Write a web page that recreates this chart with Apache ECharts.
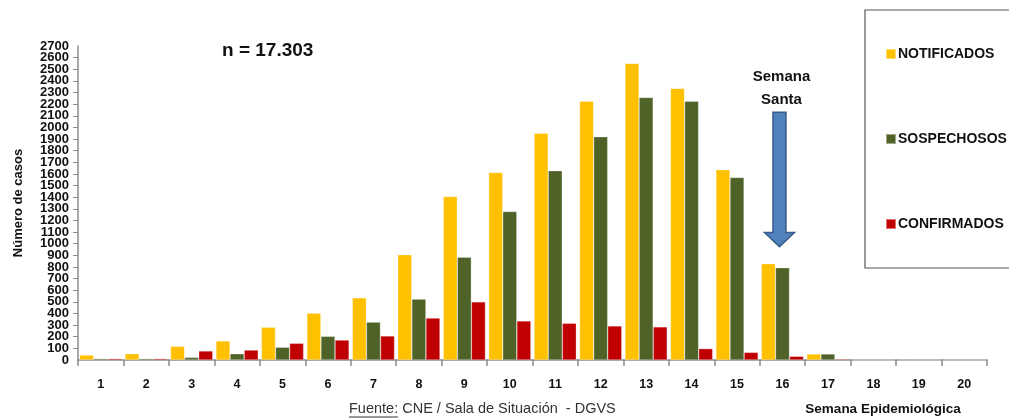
<!DOCTYPE html>
<html>
<head>
<meta charset="utf-8">
<script src="https://cdn.jsdelivr.net/npm/echarts@6/dist/echarts.min.js"></script>
<style>
  html, body { margin: 0; padding: 0; background: #fff; }
  #chart { width: 1009px; height: 419px; }
</style>
</head>
<body>
<div id="chart"></div>
<script>
// semanas epidemiologicas
var semanas = ['1','2','3','4','5','6','7','8','9','10','11','12','13','14','15','16','17','18','19','20'];
var notificados = [43, 55, 118, 164, 282, 403, 535, 906, 1406, 1613, 1950, 2226, 2551, 2336, 1637, 828, 52, 0, 0, 0];
var sospechosos = [12, 12, 23, 54, 110, 204, 326, 524, 884, 1277, 1628, 1920, 2258, 2226, 1570, 794, 52, 0, 0, 0];
var confirmados = [12, 12, 78, 86, 144, 172, 207, 361, 500, 336, 316, 293, 285, 98, 66, 32, 9, 0, 0, 0];
var yMin = 0, yMax = 2700, yPaso = 100;

var fuente = 'Liberation Sans';
var chart = echarts.init(document.getElementById('chart'));

function serie(nombre, datos, color) {
  return {
    name: nombre,
    type: 'bar',
    data: datos,
    barGap: 0,
    barCategoryGap: '7%',
    itemStyle: { color: color, borderColor: 'rgba(255,255,255,0.45)', borderWidth: 0.6 }
  };
}

var etiquetaY = { margin: 9, fontSize: 13, fontWeight: 'bold', color: '#111', fontFamily: fuente };

var option = {
  animation: false,
  backgroundColor: '#fff',
  textStyle: { fontFamily: fuente },
  grid: { left: 78, right: 22, top: 46, bottom: 59 },
  title: {
    text: 'n = 17.303',
    left: 217, top: 36,
    textStyle: { fontSize: 19, fontWeight: 'bold', color: '#111', fontFamily: fuente }
  },
  legend: {
    orient: 'vertical',
    left: 880, top: 42,
    itemGap: 71,
    itemWidth: 10, itemHeight: 10,
    icon: 'rect',
    textStyle: { fontSize: 14, fontWeight: 'bold', color: '#111', fontFamily: fuente, padding: [0, 0, 0, -3] },
    data: ['NOTIFICADOS', 'SOSPECHOSOS', 'CONFIRMADOS']
  },
  xAxis: {
    type: 'category',
    data: semanas,
    axisLine: { lineStyle: { color: '#8c8c8c', width: 1.5 } },
    axisTick: { show: true, length: 6, alignWithLabel: false, lineStyle: { color: '#8c8c8c', width: 1.5 } },
    axisLabel: { margin: 18, fontSize: 12.5, fontWeight: 'bold', color: '#111', fontFamily: fuente }
  },
  yAxis: [
    {
      type: 'value',
      min: yMin, max: yMax, interval: yPaso,
      name: 'Número de casos',
      nameLocation: 'middle',
      nameRotate: 90,
      nameGap: 53,
      nameTextStyle: { fontSize: 13, fontWeight: 'bold', color: '#111', fontFamily: fuente },
      splitLine: { show: false },
      axisLine: { show: true, lineStyle: { color: '#8c8c8c', width: 1.5 } },
      axisTick: { show: true, length: 5, lineStyle: { color: '#8c8c8c' } },
      axisLabel: Object.assign({}, etiquetaY, {
        showMinLabel: false, showMaxLabel: false,
        formatter: function (v) { return String(v); }
      })
    },
    {
      // solo para mostrar las etiquetas 0 y 2700 sin que se oculten las vecinas
      type: 'value', position: 'left', offset: 0,
      min: yMin, max: yMax, interval: yPaso,
      splitLine: { show: false }, axisLine: { show: false }, axisTick: { show: false },
      axisLabel: Object.assign({}, etiquetaY, {
        showMinLabel: true, showMaxLabel: true,
        formatter: function (v) { return (v === yMin || v === yMax) ? String(v) : ''; }
      })
    }
  ],
  series: [
    serie('NOTIFICADOS', notificados, '#ffc000'),
    serie('SOSPECHOSOS', sospechosos, '#4f6228'),
    serie('CONFIRMADOS', confirmados, '#c00000')
  ]
};
chart.setOption(option);

// flecha "Semana Santa" sobre la semana 16, ubicada con las escalas del grafico
var idx = semanas.indexOf('16');
var cx = chart.convertToPixel({ xAxisIndex: 0 }, idx) - 3;
var yTop = chart.convertToPixel({ yAxisIndex: 0 }, 2131);
var yBase = chart.convertToPixel({ yAxisIndex: 0 }, 1096);
var yTip = chart.convertToPixel({ yAxisIndex: 0 }, 975);
var yTxt1 = chart.convertToPixel({ yAxisIndex: 0 }, 2433);
var yTxt2 = chart.convertToPixel({ yAxisIndex: 0 }, 2235);

chart.setOption({
  graphic: [
    {
      type: 'rect',
      shape: { x: 865, y: 10, width: 160, height: 258 },
      style: { fill: 'none', stroke: '#555', lineWidth: 1.2 },
      z: 1
    },
    {
      type: 'polygon',
      shape: {
        points: [
          [cx - 6.5, yTop], [cx + 6.5, yTop], [cx + 6.5, yBase], [cx + 15, yBase],
          [cx, yTip], [cx - 15, yBase], [cx - 6.5, yBase]
        ]
      },
      style: { fill: '#4f81bd', stroke: '#385d8a', lineWidth: 1.5 },
      z: 10
    },
    {
      type: 'text', x: cx + 2, y: yTxt1,
      style: { text: 'Semana', font: 'bold 15px ' + fuente, fill: '#111', textAlign: 'center', textVerticalAlign: 'middle' },
      z: 10
    },
    {
      type: 'text', x: cx + 2, y: yTxt2,
      style: { text: 'Santa', font: 'bold 15px ' + fuente, fill: '#111', textAlign: 'center', textVerticalAlign: 'middle' },
      z: 10
    },
    {
      type: 'text', x: 349, y: 409,
      style: { text: 'Fuente: CNE / Sala de Situación  - DGVS', font: '14.5px ' + fuente, fill: '#333', textVerticalAlign: 'middle' }
    },
    {
      type: 'line',
      shape: { x1: 349, y1: 417, x2: 398, y2: 417 },
      style: { stroke: '#333', lineWidth: 1 }
    },
    {
      type: 'text', x: 883, y: 409,
      style: { text: 'Semana Epidemiológica', font: 'bold 13.5px ' + fuente, fill: '#111', textAlign: 'center', textVerticalAlign: 'middle' }
    }
  ]
});
</script>
</body>
</html>
